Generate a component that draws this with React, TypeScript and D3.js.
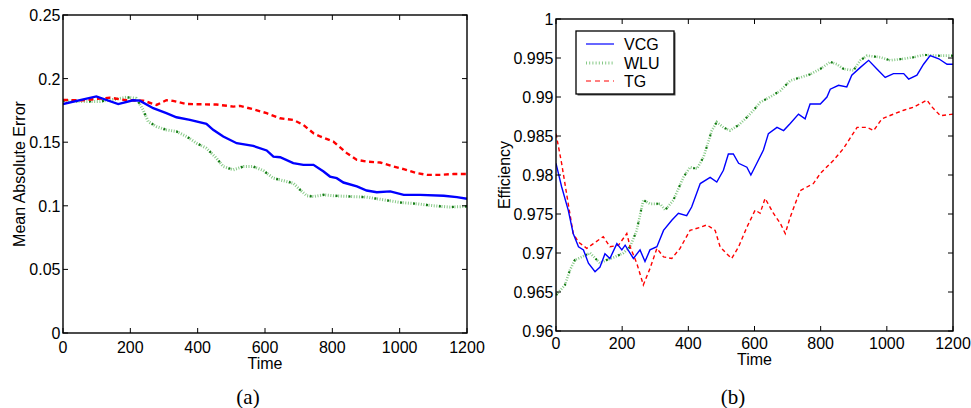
import React from "react";
import * as d3 from "d3";

// ---------- Data: panel (a) Mean Absolute Error ----------
const aVcgT = [0, 99, 164, 208, 228, 268, 307, 337, 377, 426, 446, 476, 516, 565, 605, 625, 645, 684, 714, 744, 774, 793, 813, 833, 873, 902, 932, 972, 1012, 1061, 1131, 1170, 1200];
const aVcgV = [0.180, 0.186, 0.180, 0.183, 0.1827, 0.1767, 0.1728, 0.1696, 0.1675, 0.1644, 0.1597, 0.1545, 0.1492, 0.1471, 0.1435, 0.1387, 0.1382, 0.1335, 0.1322, 0.1322, 0.127, 0.123, 0.1217, 0.1183, 0.1152, 0.112, 0.1107, 0.1113, 0.1086, 0.1086, 0.1079, 0.1068, 0.1055];

const aWluT = [0, 60, 109, 159, 188, 218, 238, 253, 278, 307, 337, 367, 397, 426, 456, 476, 506, 536, 565, 595, 625, 664, 684, 704, 724, 744, 774, 803, 853, 902, 952, 1002, 1051, 1101, 1150, 1200];
const aWluV = [0.1827, 0.182, 0.182, 0.184, 0.1853, 0.1845, 0.1754, 0.1662, 0.1623, 0.1597, 0.1584, 0.1545, 0.1492, 0.1453, 0.1374, 0.1309, 0.1283, 0.1309, 0.1309, 0.1277, 0.1217, 0.1191, 0.1178, 0.1126, 0.1079, 0.1073, 0.1086, 0.1079, 0.1073, 0.1068, 0.1047, 0.1026, 0.1016, 0.100, 0.099, 0.0995];

const aTgT = [0, 60, 139, 188, 238, 278, 307, 327, 367, 407, 456, 506, 526, 565, 605, 645, 684, 714, 744, 764, 803, 843, 873, 902, 942, 982, 1012, 1051, 1081, 1121, 1160, 1200];
const aTgV = [0.1832, 0.183, 0.185, 0.183, 0.1827, 0.1793, 0.183, 0.1825, 0.180, 0.1798, 0.1796, 0.178, 0.1785, 0.1759, 0.1728, 0.1688, 0.1675, 0.1636, 0.157, 0.1545, 0.1505, 0.1414, 0.1361, 0.1348, 0.134, 0.1309, 0.1288, 0.1257, 0.1243, 0.1243, 0.125, 0.125];

// ---------- Data: panel (b) Efficiency ----------
const bVcgT = [0, 17, 37, 52, 68, 83, 98, 118, 133, 148, 163, 184, 199, 209, 234, 254, 269, 284, 305, 325, 350, 370, 395, 410, 436, 466, 486, 506, 521, 536, 552, 577, 589, 607, 627, 642, 668, 688, 708, 733, 753, 768, 799, 819, 829, 854, 879, 894, 920, 945, 970, 995, 1020, 1051, 1066, 1091, 1111, 1131, 1157, 1182, 1200];
const bVcgV = [0.9815, 0.9785, 0.9755, 0.9725, 0.9708, 0.9704, 0.9687, 0.9676, 0.9682, 0.9699, 0.9693, 0.9712, 0.9704, 0.971, 0.9693, 0.9704, 0.9689, 0.9704, 0.9708, 0.9729, 0.9742, 0.9751, 0.9748, 0.9759, 0.9789, 0.9797, 0.9791, 0.9806, 0.9827, 0.9827, 0.9815, 0.981, 0.980, 0.9815, 0.9832, 0.9853, 0.9861, 0.9857, 0.9866, 0.9878, 0.9872, 0.9891, 0.9891, 0.990, 0.991, 0.9915, 0.9913, 0.9928, 0.9938, 0.9947, 0.9936, 0.9925, 0.993, 0.993, 0.9923, 0.9928, 0.9942, 0.9953, 0.9949, 0.9942, 0.9942];

const bWluT = [0, 27, 42, 57, 78, 103, 133, 153, 178, 204, 224, 244, 264, 284, 315, 330, 355, 385, 405, 426, 446, 471, 486, 506, 526, 552, 577, 597, 617, 647, 678, 708, 738, 768, 799, 829, 849, 869, 899, 920, 940, 980, 1010, 1051, 1081, 1111, 1152, 1200];
const bWluV = [0.9646, 0.9659, 0.9678, 0.9691, 0.9695, 0.970, 0.9687, 0.9691, 0.9695, 0.970, 0.9708, 0.9729, 0.9768, 0.9763, 0.9763, 0.9755, 0.9768, 0.9797, 0.981, 0.9808, 0.9823, 0.9857, 0.9868, 0.9861, 0.9857, 0.9864, 0.9874, 0.9883, 0.9893, 0.990, 0.9908, 0.9921, 0.9925, 0.9929, 0.9936, 0.9945, 0.9942, 0.9936, 0.9934, 0.9947, 0.9953, 0.9951, 0.9947, 0.9949, 0.9951, 0.9954, 0.9953, 0.9953];

const bTgT = [0, 17, 37, 52, 68, 93, 113, 143, 163, 189, 214, 224, 244, 264, 284, 305, 325, 350, 375, 405, 436, 456, 481, 496, 516, 531, 552, 577, 602, 617, 632, 657, 678, 693, 708, 738, 778, 799, 839, 869, 910, 940, 960, 985, 1020, 1051, 1081, 1121, 1137, 1162, 1200];
const bTgV = [0.9853, 0.9815, 0.9763, 0.9725, 0.9714, 0.9706, 0.9712, 0.9721, 0.9708, 0.971, 0.9725, 0.9708, 0.9687, 0.9659, 0.968, 0.9706, 0.9695, 0.9693, 0.9706, 0.9729, 0.9733, 0.9736, 0.9729, 0.9708, 0.9699, 0.9693, 0.9708, 0.9733, 0.9755, 0.9751, 0.977, 0.9751, 0.9738, 0.9725, 0.9746, 0.978, 0.9789, 0.9802, 0.9819, 0.9834, 0.9861, 0.9861, 0.9857, 0.9872, 0.9878, 0.9883, 0.9887, 0.9896, 0.9887, 0.9876, 0.9878];

// ---------- Ticks / labels ----------
const xTicks = [0, 200, 400, 600, 800, 1000, 1200];
const aYTicks = [0, 0.05, 0.1, 0.15, 0.2, 0.25];
const aYLabels = ["0", "0.05", "0.1", "0.15", "0.2", "0.25"];
const bYTicks = [0.96, 0.965, 0.97, 0.975, 0.98, 0.985, 0.99, 0.995, 1];
const bYLabels = ["0.96", "0.965", "0.97", "0.975", "0.98", "0.985", "0.99", "0.995", "1"];
const legendNames = ["VCG", "WLU", "TG"];

const FONT = "'Liberation Sans', Arial, sans-serif";
const FS = 16;

type Series = { t: number[]; v: number[]; kind: "vcg" | "wlu" | "tg" };

function SeriesPath({ s, x, y, thick }: { s: Series; x: any; y: any; thick: boolean }) {
  const pts = s.t.map((t, i) => [t, s.v[i]] as [number, number]);
  const line = d3.line<[number, number]>().x((d) => x(d[0])).y((d) => y(d[1])).curve(d3.curveLinear);
  const d = line(pts) || "";
  const w = thick ? 2.4 : 1.4;
  if (s.kind === "vcg") return <path d={d} fill="none" stroke="#0000ff" strokeWidth={w} />;
  if (s.kind === "tg")
    return <path d={d} fill="none" stroke="#ff0000" strokeWidth={w} strokeDasharray={thick ? "5,3.5" : "4,3"} />;
  return (
    <g>
      <path d={d} fill="none" stroke="#86c986" strokeWidth={thick ? 3 : 2.6} strokeDasharray="1,1.6" />
      <path d={d} fill="none" stroke="#137a13" strokeWidth={thick ? 2.2 : 2} strokeDasharray="2,11" />
    </g>
  );
}

function Panel(props: {
  left: number; top: number; right: number; bottom: number;
  yDomain: [number, number]; yTicks: number[]; yLabels: string[];
  series: Series[]; thick: boolean; yLabel: string; yLabelX: number;
  caption: string; captionX: number; tickBaseline: number; timeBaseline: number;
}) {
  const { left, top, right, bottom } = props;
  const x = d3.scaleLinear().domain([0, 1200]).range([left, right]);
  const y = d3.scaleLinear().domain(props.yDomain).range([bottom, top]);
  const tl = 5;
  const cx = (left + right) / 2;
  const clipId = "clip" + props.caption.replace(/[()]/g, "");
  return (
    <g>
      <defs>
        <clipPath id={clipId}>
          <rect x={left} y={top - 2} width={right - left} height={bottom - top + 4} />
        </clipPath>
      </defs>
      <g clipPath={`url(#${clipId})`}>
        {props.series.map((s, i) => (
          <SeriesPath key={i} s={s} x={x} y={y} thick={props.thick} />
        ))}
      </g>
      <rect x={left} y={top} width={right - left} height={bottom - top} fill="none" stroke="#000" strokeWidth={1.4} />
      {xTicks.map((t) => (
        <g key={"x" + t}>
          <line x1={x(t)} x2={x(t)} y1={bottom} y2={bottom - tl} stroke="#000" strokeWidth={1} />
          <line x1={x(t)} x2={x(t)} y1={top} y2={top + tl} stroke="#000" strokeWidth={1} />
          <text x={x(t)} y={props.tickBaseline} textAnchor="middle" fontFamily={FONT} fontSize={FS} fill="#000">
            {t}
          </text>
        </g>
      ))}
      {props.yTicks.map((v, i) => (
        <g key={"y" + i}>
          <line x1={left} x2={left + tl} y1={y(v)} y2={y(v)} stroke="#000" strokeWidth={1} />
          <line x1={right} x2={right - tl} y1={y(v)} y2={y(v)} stroke="#000" strokeWidth={1} />
          <text x={left - 2.5} y={y(v) + 6} textAnchor="end" fontFamily={FONT} fontSize={FS} fill="#000">
            {props.yLabels[i]}
          </text>
        </g>
      ))}
      <text x={cx} y={props.timeBaseline} textAnchor="middle" fontFamily={FONT} fontSize={FS} fill="#000">
        Time
      </text>
      <text
        transform={`translate(${props.yLabelX},${(top + bottom) / 2}) rotate(-90)`}
        textAnchor="middle"
        fontFamily={FONT}
        fontSize={FS}
        fill="#000"
      >
        {props.yLabel}
      </text>
      <text x={props.captionX} y={404} textAnchor="middle" fontFamily="'Liberation Serif', 'Times New Roman', serif" fontSize={21} fill="#000">
        {props.caption}
      </text>
    </g>
  );
}

export default function App() {
  const aSeries: Series[] = [
    { t: aWluT, v: aWluV, kind: "wlu" },
    { t: aTgT, v: aTgV, kind: "tg" },
    { t: aVcgT, v: aVcgV, kind: "vcg" },
  ];
  const bSeries: Series[] = [
    { t: bWluT, v: bWluV, kind: "wlu" },
    { t: bTgT, v: bTgV, kind: "tg" },
    { t: bVcgT, v: bVcgV, kind: "vcg" },
  ];
  const legX = 576, legY = 31, legW = 98, legH = 63;
  const legRows = [44, 63, 81];
  return (
    <svg width={971} height={408} style={{ position: "absolute", left: 0, top: 0, background: "#fff" }}>
      <rect x={0} y={0} width={971} height={408} fill="#fff" />
      <Panel
        left={63} top={15} right={467} bottom={333}
        yDomain={[0, 0.25]} yTicks={aYTicks} yLabels={aYLabels}
        series={aSeries} thick={true} yLabel="Mean Absolute Error" yLabelX={25}
        caption="(a)" captionX={248} tickBaseline={353} timeBaseline={369}
      />
      <Panel
        left={556} top={19} right={953} bottom={331}
        yDomain={[0.96, 1]} yTicks={bYTicks} yLabels={bYLabels}
        series={bSeries} thick={false} yLabel="Efficiency" yLabelX={510}
        caption="(b)" captionX={733} tickBaseline={349} timeBaseline={365}
      />
      <g>
        <rect x={legX + 1.5} y={legY + 1.5} width={legW} height={legH} fill="#555" />
        <rect x={legX} y={legY} width={legW} height={legH} fill="#fff" stroke="#000" strokeWidth={1.3} />
        {legendNames.map((n, i) => {
          const yy = legRows[i];
          let sample;
          if (i === 0) sample = <line x1={586} x2={614} y1={yy} y2={yy} stroke="#0000ff" strokeWidth={1.2} />;
          else if (i === 1)
            sample = <line x1={586} x2={614} y1={yy} y2={yy} stroke="#86c986" strokeWidth={3} strokeDasharray="1,2.2" />;
          else sample = <line x1={586} x2={614} y1={yy} y2={yy} stroke="#ff0000" strokeWidth={1.2} strokeDasharray="5,4" />;
          return (
            <g key={n}>
              {sample}
              <text x={624} y={yy + 6} fontFamily={FONT} fontSize={FS} fill="#000">
                {n}
              </text>
            </g>
          );
        })}
      </g>
    </svg>
  );
}
